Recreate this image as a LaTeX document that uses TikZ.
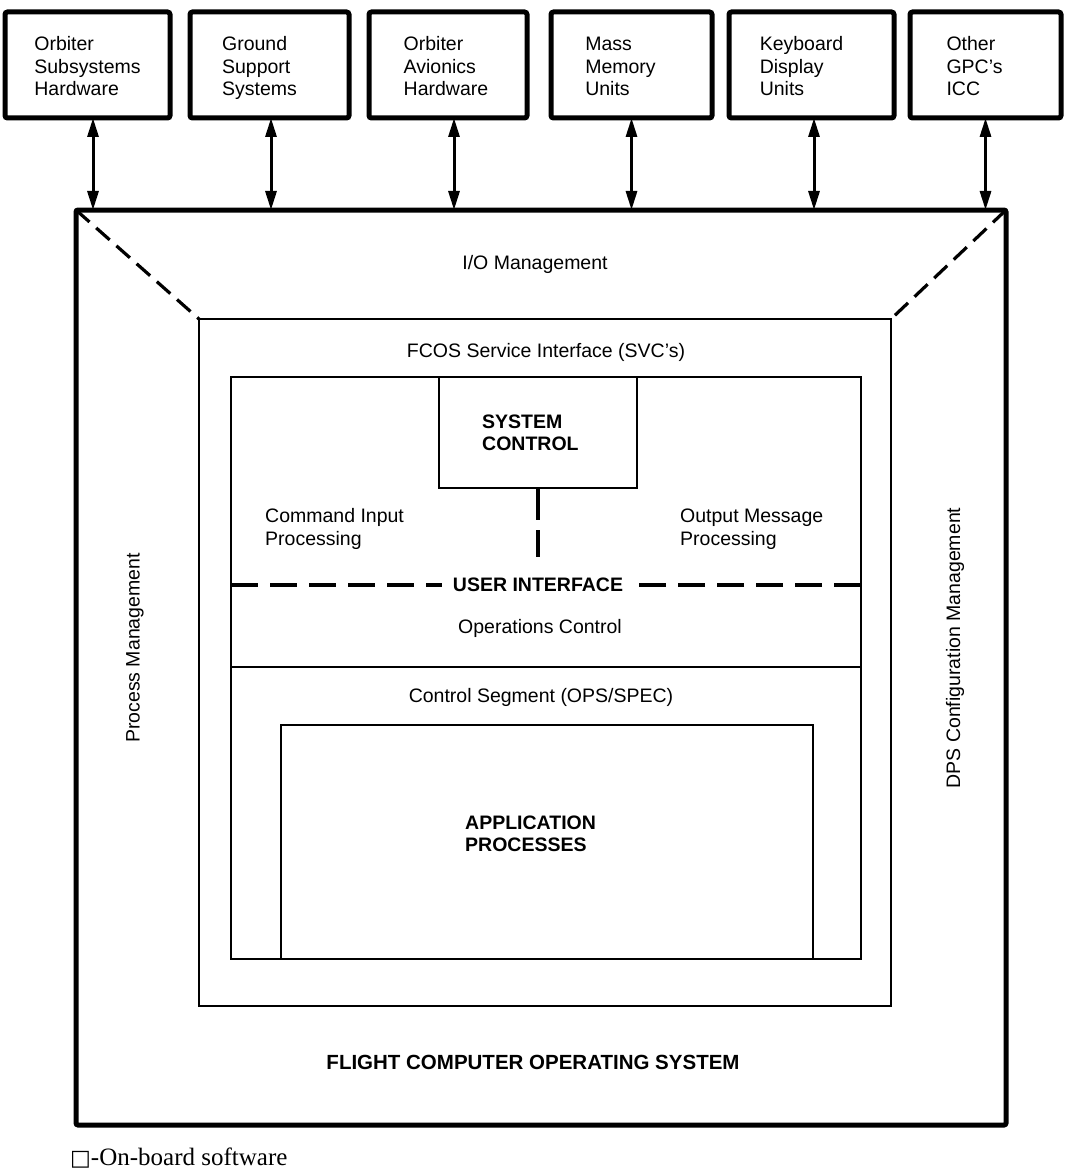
\documentclass[tikz,border=0pt]{standalone}
\usepackage{fontspec}
\setmainfont{Liberation Sans}
\newfontfamily\notefont{Liberation Serif}
\newfontfamily\symfont{DejaVu Sans}
\usetikzlibrary{arrows.meta}

\tikzset{
  hwbox/.style={draw, line width=5pt, rounded corners=2.5pt, minimum height=106pt,
    inner sep=0pt, outer sep=0pt},
  hwtext/.style={align=left, anchor=north, inner sep=0pt, font=\fontsize{19.5}{22.5}\selectfont},
  osbox/.style={draw, line width=5pt, rounded corners=2pt, inner sep=0pt, outer sep=0pt},
  layer/.style={draw, line width=2.8pt, inner sep=0pt, outer sep=0pt},
  label/.style={inner sep=0pt, font=\fontsize{19.5}{22.5}\selectfont},
  boldlabel/.style={inner sep=0pt, align=left, font=\fontsize{19.5}{22.5}\selectfont\bfseries},
  biarrow/.style={line width=3pt,
    {Triangle[length=19pt,width=11pt]}-{Triangle[length=19pt,width=11pt]}},
  diag/.style={line width=3.2pt, dash pattern=on 18pt off 9pt},
  uidash/.style={line width=3.2pt, dash pattern=on 27pt off 12pt},
  vdash/.style={line width=3.2pt, dash pattern=on 32pt off 10pt},
}

\begin{document}
\begin{tikzpicture}[x=1pt,y=-1pt]
\useasboundingbox (0,0) rectangle (1065,1169);

% external units
\node[hwbox, minimum width=165pt] (b1) at (87.5,65) {};
\node[hwbox, minimum width=159pt] (b2) at (269.5,65) {};
\node[hwbox, minimum width=158pt] (b3) at (448,65) {};
\node[hwbox, minimum width=161pt] (b4) at (631.5,65) {};
\node[hwbox, minimum width=165pt] (b5) at (811.5,65) {};
\node[hwbox, minimum width=151pt] (b6) at (985.5,65) {};

% unit names, top line aligned by a strut
\node[hwtext] at ([yshift=30pt]b1.center) {\strut Orbiter\\Subsystems\\Hardware};
\node[hwtext] at ([xshift=-10pt,yshift=30pt]b2.center) {\strut Ground\\Support\\Systems};
\node[hwtext] at ([xshift=-2pt,yshift=30pt]b3.center) {\strut Orbiter\\Avionics\\Hardware};
\node[hwtext] at ([xshift=-11pt,yshift=30pt]b4.center) {\strut Mass\\Memory\\Units};
\node[hwtext] at ([xshift=-10pt,yshift=30pt]b5.center) {\strut Keyboard\\Display\\Units};
\node[hwtext] at ([xshift=-11pt,yshift=30pt]b6.center) {\strut Other\\GPC's\\ICC};

% operating system and its layers
\node[osbox, minimum width=930pt, minimum height=915pt] (osys) at (541,667.5) {};
\node[layer, minimum width=692pt, minimum height=687pt] (svc) at (545,662.5) {};
\node[layer, minimum width=630pt, minimum height=582pt] (ui) at (546,668) {};
\node[layer, minimum width=198pt, minimum height=111pt] (sysctl) at (538,432.5) {};
\node[layer, minimum width=532pt, minimum height=234pt] (app) at (547,842) {};

% links to the external units
\coordinate (a1) at ([xshift=5.5pt]b1.south);
\coordinate (a2) at ([xshift=1.5pt]b2.south);
\coordinate (a3) at ([xshift=6pt]b3.south);
\coordinate (a4) at (b4.south);
\coordinate (a5) at ([xshift=2.5pt]b5.south);
\coordinate (a6) at (b6.south);
\foreach \a in {a1,a2,a3,a4,a5,a6}
  \draw[biarrow] (\a) -- (\a |- osys.north);

% corner dashes between the outer box and the service interface
\draw[diag] (osys.north west) -- (svc.north west);
\draw[diag] (osys.north east) -- (svc.north east);

% separator between user interface and control segment
\coordinate (sepL) at (231,667);
\coordinate (sepR) at (861,667);
\draw[line width=2.8pt] (sepL) -- (sepR);

% texts
\node[label] (io) at (535,264) {I/O Management};
\node[label] (svctext) at (546,352) {FCOS Service Interface (SVC's)};
\node[boldlabel, anchor=west] (sctext) at (482,433) {SYSTEM\\CONTROL};
\node[label, align=left, anchor=west] (cmd) at (265,529) {Command Input\\Processing};
\node[label, align=left, anchor=west] (out) at (680,529) {Output Message\\Processing};
\node[boldlabel, inner xsep=11pt] (uitext) at (538,585) {USER INTERFACE};
\node[label] (ops) at (540,628) {Operations Control};
\node[label] (seg) at (541,697) {Control Segment (OPS/SPEC)};
\node[boldlabel, anchor=west] (apptext) at (465,834) {APPLICATION\\PROCESSES};
\node[boldlabel, font=\fontsize{20.5}{24}\selectfont\bfseries] (fcos) at (533,1062)
  {FLIGHT COMPUTER OPERATING SYSTEM};
\node[label, rotate=90] (pm) at (135,648) {Process Management};
\node[label, rotate=90] (dps) at (955,648) {DPS Configuration Management};

% user interface boundary
\coordinate (uiL) at (231,585);
\coordinate (uiR) at (861,585);
\draw[uidash] (uiL) -- (uitext.west);
\draw[uidash] (uiR) -- (uitext.east);

% system control link
\coordinate (vdEnd) at (538,557);
\draw[vdash] (sysctl.south) -- (vdEnd);

% footnote
\node[inner sep=0pt, anchor=west, font=\fontsize{25}{28}\selectfont] (note) at (70,1158)
  {{\symfont\fontsize{22}{24}\selectfont □}{\notefont -On-board software}};
\end{tikzpicture}
\end{document}
